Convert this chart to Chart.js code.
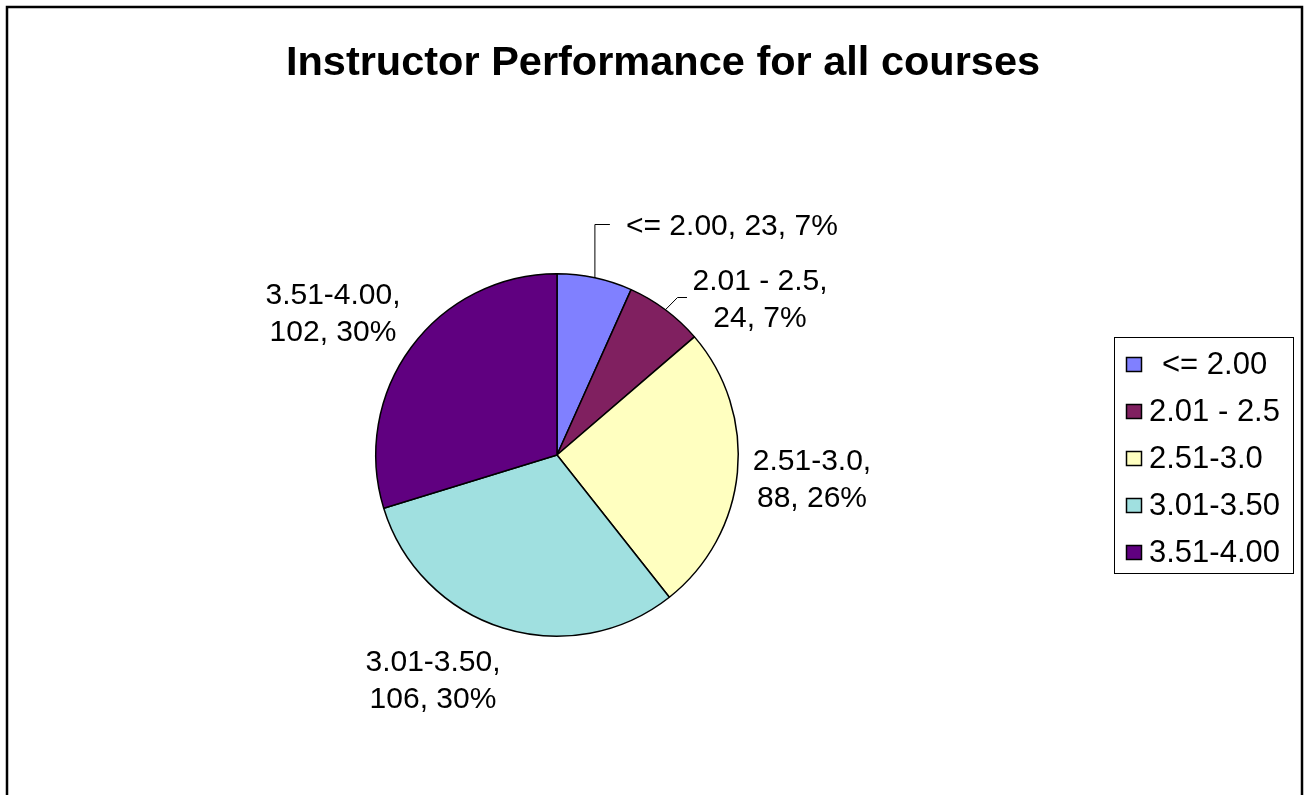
<!DOCTYPE html>
<html><head><meta charset="utf-8">
<script src="https://cdn.jsdelivr.net/npm/chart.js@4/dist/chart.umd.min.js"></script>
<style>html,body{margin:0;padding:0;background:#fff}#wrap{width:1305px;height:795px;position:relative}</style>
</head><body><div id="wrap"><canvas id="c" width="1305" height="795"></canvas></div>
<script>
const categories = ['<= 2.00', '2.01 - 2.5', '2.51-3.0', '3.01-3.50', '3.51-4.00'];
const counts = [23, 24, 88, 106, 102];
const percents = ['7%', '7%', '26%', '30%', '30%'];
const colors = ['#8080FF', '#802060', '#FFFFC0', '#A0E0E0', '#600080'];
const titleText = 'Instructor Performance for all courses';

const FONT = '"Liberation Sans", Arial, Helvetica, sans-serif';

const overlay = {
  id: 'overlay',
  beforeDraw(chart) {
    const ctx = chart.ctx;
    ctx.save();
    ctx.fillStyle = '#fff';
    ctx.fillRect(0, 0, chart.width, chart.height);
    ctx.restore();
  },
  afterDraw(chart) {
    const ctx = chart.ctx;
    ctx.save();
    // frame
    ctx.strokeStyle = '#000';
    ctx.lineWidth = 2.5;
    ctx.beginPath();
    ctx.moveTo(7, 800); ctx.lineTo(7, 7); ctx.lineTo(1302, 7); ctx.lineTo(1302, 800);
    ctx.stroke();
    // title
    ctx.fillStyle = '#000';
    ctx.font = 'bold 41.5px ' + FONT;
    ctx.textAlign = 'center';
    ctx.textBaseline = 'middle';
    ctx.fillText(titleText, 663, 64);

    // data labels
    const meta = chart.getDatasetMeta(0);
    const labelPos = [
      {x: 626, y: 227, align: 'left', lines: [categories[0] + ', ' + counts[0] + ', ' + percents[0]]},
      {x: 760, y: 282, align: 'center', lines: [categories[1] + ',', counts[1] + ', ' + percents[1]]},
      {x: 812, y: 462, align: 'center', lines: [categories[2] + ',', counts[2] + ', ' + percents[2]]},
      {x: 433, y: 663, align: 'center', lines: [categories[3] + ',', counts[3] + ', ' + percents[3]]},
      {x: 333, y: 296, align: 'center', lines: [categories[4] + ',', counts[4] + ', ' + percents[4]]}
    ];
    ctx.font = '30px ' + FONT;
    labelPos.forEach(p => {
      ctx.textAlign = p.align;
      p.lines.forEach((l, i) => ctx.fillText(l, p.x, p.y + i * 37));
    });
    // leader lines
    ctx.lineWidth = 1;
    ctx.strokeStyle = '#000';
    const arc0 = meta.data[0], arc1 = meta.data[1];
    function edgePoint(arc, frac) {
      const a = arc.startAngle + (arc.endAngle - arc.startAngle) * frac;
      return {x: arc.x + Math.cos(a) * arc.outerRadius, y: arc.y + Math.sin(a) * arc.outerRadius};
    }
    let p0 = edgePoint(arc0, 0.5);
    ctx.beginPath();
    ctx.moveTo(p0.x, p0.y); ctx.lineTo(p0.x, 224.5); ctx.lineTo(p0.x + 15, 224.5);
    ctx.stroke();
    let p1 = edgePoint(arc1, 0.5);
    ctx.beginPath();
    ctx.moveTo(p1.x, p1.y); ctx.lineTo(677.5, 297.5); ctx.lineTo(687, 297.5);
    ctx.stroke();

    // legend
    ctx.lineWidth = 1;
    ctx.strokeStyle = '#000';
    ctx.strokeRect(1114.5, 337.5, 179, 236);
    const rowY = [365, 412, 459, 506, 553];
    ctx.textAlign = 'left';
    ctx.font = '31px ' + FONT;
    categories.forEach((c, i) => {
      ctx.fillStyle = colors[i];
      ctx.fillRect(1126, rowY[i] - 8, 16, 15);
      ctx.lineWidth = 1.5;
      ctx.strokeRect(1126.5, rowY[i] - 7.5, 15, 14);
      ctx.fillStyle = '#000';
      ctx.fillText(c, i === 0 ? 1162 : 1149, rowY[i]);
    });
    ctx.restore();
  }
};

new Chart(document.getElementById('c'), {
  type: 'pie',
  data: {
    labels: categories,
    datasets: [{
      data: counts,
      backgroundColor: colors,
      borderColor: '#000',
      borderWidth: 1.5
    }]
  },
  options: {
    responsive: false,
    animation: false,
    layout: {padding: {left: 375, top: 273, right: 566, bottom: 158}},
    plugins: {legend: {display: false}, title: {display: false}, tooltip: {enabled: false}}
  },
  plugins: [overlay]
});
</script>
</body></html>
